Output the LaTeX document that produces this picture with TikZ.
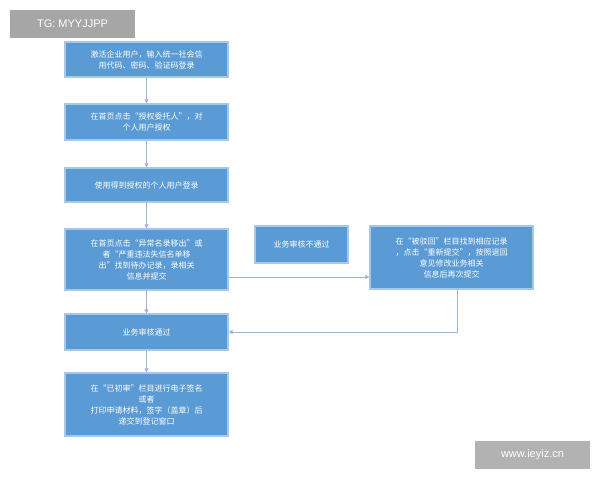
\documentclass[tikz,border=0pt]{standalone}
\usepackage{fontspec}
\setmainfont{Liberation Sans}
\newfontfamily\cjk{Noto Sans CJK SC}
\usetikzlibrary{arrows.meta}
\definecolor{boxfill}{HTML}{5B9BD5}
\definecolor{boxline}{HTML}{A9C8E8}
\definecolor{conn}{HTML}{9FB6D0}
\begin{document}
\begin{tikzpicture}[x=1pt,y=-1pt,
  flowbox/.style={draw=boxline,line width=1.2pt,fill=boxfill,text=white,font=\cjk\fontsize{8}{11}\selectfont,align=center,inner sep=2pt},
  conline/.style={draw=conn,line width=0.8pt,-{Triangle[length=4pt,width=4pt]}}]
\useasboundingbox (0,0) rectangle (600,480);
\fill[white] (0,0) rectangle (600,480);
\node[fill=gray!70,text=white,font=\fontsize{11}{13}\selectfont,minimum width=125pt,minimum height=28pt] (tg) at (72.5,24) {TG: MYYJJPP};
\node[fill=gray!60,text=white,font=\fontsize{11}{13}\selectfont,minimum width=115pt,minimum height=28pt] (www) at (532.5,455) {www.ieyiz.cn};
\node[flowbox,minimum width=163pt,minimum height=35pt] (b1) at (146.5,59.5) {激活企业用户，输入统一社会信\\用代码、密码、验证码登录};
\node[flowbox,minimum width=163pt,minimum height=36pt] (b2) at (146.5,122) {在首页点击“授权委托人”，对\\个人用户授权};
\node[flowbox,minimum width=163pt,minimum height=34pt] (b3) at (146.5,185) {使用得到授权的个人用户登录};
\node[flowbox,minimum width=163pt,minimum height=61pt] (b4) at (146.5,259.5) {在首页点击“异常名录移出”或\\者“严重违法失信名单移\\出”找到待办记录，录相关\\信息并提交};
\node[flowbox,minimum width=93pt,minimum height=37pt] (b5) at (301.5,244.5) {业务审核不通过};
\node[flowbox,minimum width=163pt,minimum height=63pt] (b6) at (451.5,257.5) {在“被驳回”栏目找到相应记录\\，点击“重新提交”，按照退回\\意见修改业务相关\\信息后再次提交};
\node[flowbox,minimum width=163pt,minimum height=36pt] (b7) at (146.5,332) {业务审核通过};
\node[flowbox,minimum width=163pt,minimum height=63pt] (b8) at (146.5,404.5) {在“已初审”栏目进行电子签名\\或者\\打印申请材料，签字（盖章）后\\递交到登记窗口};
\draw[conline] (b1) -- (b2);
\draw[conline] (b2) -- (b3);
\draw[conline] (b3) -- (b4);
\draw[conline] (b4) -- (b7);
\draw[conline] (b7) -- (b8);
\draw[conline] (b4.east |- 0,277) -- (b6.west |- 0,277);
\draw[conline] (457,289) -- (457,332) -- (b7.east);
\end{tikzpicture}
\end{document}
